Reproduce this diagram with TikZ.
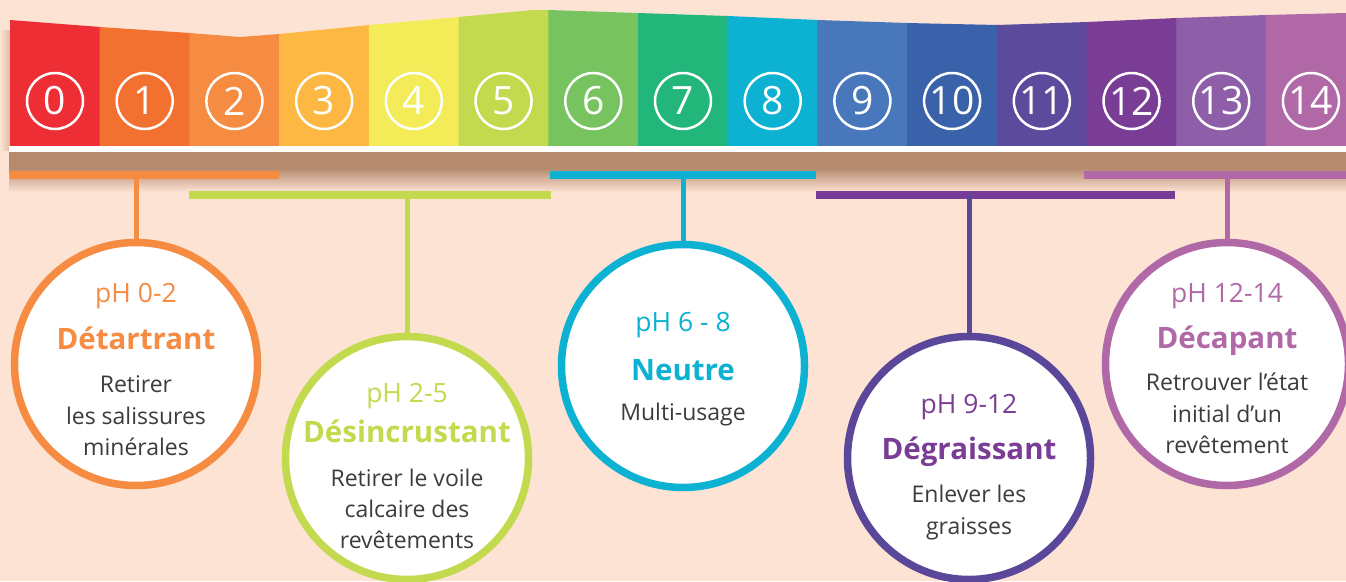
\documentclass[tikz,border=0pt]{standalone}
\usepackage{fontspec}
\setmainfont{Open Sans}
\definecolor{bg}{HTML}{FDE3D4}
\definecolor{shad}{HTML}{B58A6E}
\definecolor{c0}{HTML}{EE2E35}
\definecolor{c1}{HTML}{F37130}
\definecolor{c2}{HTML}{F68B42}
\definecolor{c3}{HTML}{FDB843}
\definecolor{c4}{HTML}{F3EC58}
\definecolor{c5}{HTML}{C3D94E}
\definecolor{c6}{HTML}{77C35F}
\definecolor{c7}{HTML}{23B67B}
\definecolor{c8}{HTML}{0DB1D2}
\definecolor{c9}{HTML}{4877BC}
\definecolor{c10}{HTML}{3A62AB}
\definecolor{c11}{HTML}{5C4A9C}
\definecolor{c12}{HTML}{7A3D96}
\definecolor{c13}{HTML}{8E5FA8}
\definecolor{c14}{HTML}{B068A7}
\definecolor{cOr}{HTML}{F68B42}
\definecolor{cGr}{HTML}{C3D94E}
\definecolor{cBl}{HTML}{0DB1D2}
\definecolor{cPuL}{HTML}{773C96}
\definecolor{cPuR}{HTML}{5A4799}
\definecolor{cPuT}{HTML}{7A3D96}
\definecolor{cPk}{HTML}{B068A7}
\definecolor{body}{HTML}{3C3C3C}
\tikzset{
  digit/.style={circle, draw=white, line width=2.5pt, minimum size=56pt, inner sep=0pt, text=white, font=\fontsize{39}{39}\selectfont},
  bar/.style={line width=8pt},
  stem/.style={line width=5pt},
  ring/.style={circle, fill=white, line width=7.5pt, minimum size=243pt, inner sep=0pt},
  phl/.style={anchor=base, inner sep=0pt, font=\fontsize{26.5}{30}\selectfont},
  ttl/.style={anchor=base, inner sep=0pt, font=\fontsize{29.5}{32}\bfseries\selectfont},
  bdy/.style={anchor=base, inner sep=0pt, text=body, font=\fontsize{23}{30}\selectfont}
}
\begin{document}
\begin{tikzpicture}[x=1pt,y=-1pt]
\useasboundingbox (0,0) rectangle (1346,581);
\fill[bg] (0,0) rectangle (1346,581);
% shadow
\fill[shad] (9,150) rectangle (1346,168);
\shade[top color=shad, bottom color=bg] (9,168) rectangle (1346,192);
\shade[left color=bg, right color=shad!45!bg] (0,30) rectangle (10,150);
% band
\fill[c0] (10,20) -- (100.2,27) -- (100.2,146) -- (10,146) -- cycle;
\fill[c1] (99.7,27) -- (189.9,33) -- (189.9,146) -- (99.7,146) -- cycle;
\fill[c2] (189.4,33) -- (240,37) -- (279.6,34) -- (279.6,146) -- (189.4,146) -- cycle;
\fill[c3] (279.1,34) -- (369.4,25) -- (369.4,146) -- (279.1,146) -- cycle;
\fill[c4] (368.9,25) -- (459.1,17) -- (459.1,146) -- (368.9,146) -- cycle;
\fill[c5] (458.6,17) -- (533,10) -- (548.8,10) -- (548.8,146) -- (458.6,146) -- cycle;
\fill[c6] (548.3,10) -- (638.5,13) -- (638.5,146) -- (548.3,146) -- cycle;
\fill[c7] (638,13) -- (728.2,16) -- (728.2,146) -- (638,146) -- cycle;
\fill[c8] (727.7,16) -- (817.9,20) -- (817.9,146) -- (727.7,146) -- cycle;
\fill[c9] (817.4,20) -- (907.6,23) -- (907.6,146) -- (817.4,146) -- cycle;
\fill[c10] (907.1,23) -- (997.4,25) -- (997.4,146) -- (907.1,146) -- cycle;
\fill[c11] (996.9,25) -- (1087.1,22) -- (1087.1,146) -- (996.9,146) -- cycle;
\fill[c12] (1086.6,22) -- (1176.8,18) -- (1176.8,146) -- (1086.6,146) -- cycle;
\fill[c13] (1176.3,18) -- (1266.5,15) -- (1266.5,146) -- (1176.3,146) -- cycle;
\fill[c14] (1266,15) -- (1346,13) -- (1346,146) -- (1266,146) -- cycle;
\fill[white] (9,146) rectangle (1346,152);
% digits
\foreach \n in {0,...,14} \node[digit] (d\n) at ({55+89.71*\n},101) {\n};
% brackets
\coordinate (oL) at (10,175); \coordinate (oR) at (279,175); \coordinate (oS) at (136,175);
\coordinate (gL) at (189,195); \coordinate (gR) at (551,195); \coordinate (gS) at (407,195);
\coordinate (bL) at (550,175); \coordinate (bR) at (816,175); \coordinate (bS) at (683,175);
\coordinate (pL) at (816,195); \coordinate (pR) at (1175,195); \coordinate (pS) at (969,195);
\coordinate (kL) at (1084,175); \coordinate (kR) at (1346,175); \coordinate (kS) at (1227,175);
\draw[bar, cOr] (oL) -- (oR);
\draw[bar, cGr] (gL) -- (gR);
\draw[bar, cBl] (bL) -- (bR);
\draw[bar, cPuL] (pL) -- (pR);
\draw[bar, cPk] (kL) -- (kR);
% circles
\node[ring, draw=cOr] (acid) at (136,364) {};
\node[ring, draw=cGr] (desinc) at (407,458) {};
\node[ring, draw=cBl] (neutre) at (683,366) {};
\node[ring, draw=cPuR] (degr) at (969,458) {};
\node[ring, draw=cPk] (decap) at (1227,364) {};
\draw[stem, cOr] (oS) -- (acid.north);
\draw[stem, cGr] (gS) -- (desinc.north);
\draw[stem, cBl] (bS) -- (neutre.north);
\draw[stem, cPuR] (pS) -- (degr.north);
\draw[stem, cPk] (kS) -- (decap.north);
% texts
\node[phl, text=cOr] (t1a) at (136,302) {pH 0-2};
\node[ttl, text=cOr] (t1b) at (136,349) {Détartrant};
\node[bdy] (t1c) at (136,392) {Retirer};
\node[bdy] (t1d) at (136,424) {les salissures};
\node[bdy] (t1e) at (136,455) {minérales};
\node[phl, text=cGr] (t2a) at (407,402) {pH 2-5};
\node[ttl, text=cGr] (t2b) at (407,442) {Désincrustant};
\node[bdy] (t2c) at (407,486) {Retirer le voile};
\node[bdy] (t2d) at (407,517) {calcaire des};
\node[bdy] (t2e) at (407,548) {revêtements};
\node[phl, text=cBl] (t3a) at (683,331) {pH 6 - 8};
\node[ttl, text=cBl] (t3b) at (683,380) {Neutre};
\node[bdy] (t3c) at (683,420) {Multi-usage};
\node[phl, text=cPuT] (t4a) at (969,413) {pH 9-12};
\node[ttl, text=cPuT] (t4b) at (969,459) {Dégraissant};
\node[bdy] (t4c) at (969,502) {Enlever les};
\node[bdy] (t4d) at (969,534) {graisses};
\node[phl, text=cPk] (t5a) at (1227,302) {pH 12-14};
\node[ttl, text=cPk] (t5b) at (1227,348) {Décapant};
\node[bdy] (t5c) at (1227,390) {Retrouver l’état};
\node[bdy] (t5d) at (1227,422) {initial d’un};
\node[bdy] (t5e) at (1227,453) {revêtement};
\end{tikzpicture}
\end{document}
